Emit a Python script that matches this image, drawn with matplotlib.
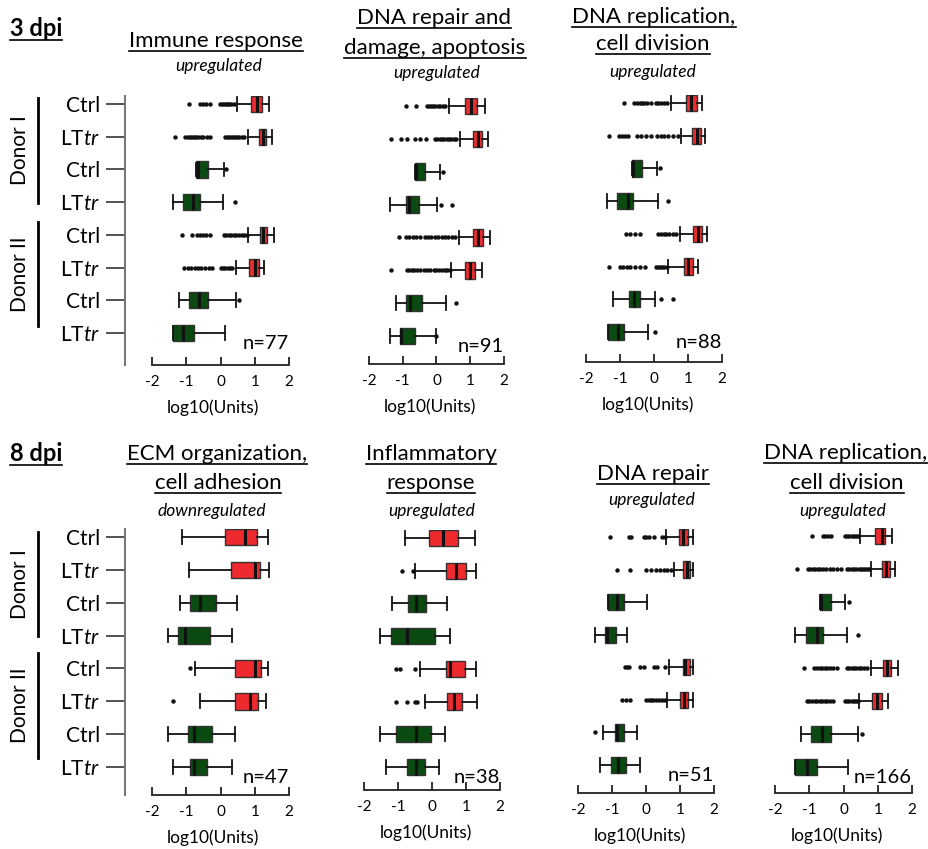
import matplotlib
matplotlib.use("Agg")
import matplotlib.pyplot as plt
from matplotlib.lines import Line2D

# ------------------------------------------
# data: (whisker low, q1, median, q3, whisker high) per row, top to bottom
# ------------------------------------------
row_labels = ["Ctrl", "LT$\\mathit{tr}$", "Ctrl", "LT$\\mathit{tr}$",
              "Ctrl", "LT$\\mathit{tr}$", "Ctrl", "LT$\\mathit{tr}$"]
row_colors = ["red", "red", "green", "green", "red", "red", "green", "green"]

immune_box = [
    (0.49, 0.90, 1.07, 1.22, 1.41),
    (0.80, 1.12, 1.24, 1.34, 1.51),
    (-0.71, -0.71, -0.66, -0.37, 0.10),
    (-1.40, -1.10, -0.80, -0.60, 0.08),
    (0.80, 1.14, 1.25, 1.37, 1.56),
    (0.44, 0.83, 1.00, 1.12, 1.27),
    (-1.22, -0.93, -0.63, -0.37, 0.44),
    (-1.40, -1.40, -1.09, -0.78, 0.13),
]
immune_out = [
    [-0.91, -0.61, -0.50, -0.41, -0.32, -0.02, 0.05, 0.10, 0.15, 0.20, 0.25, 0.32, 0.38],
    [-1.34, -1.04, -0.96, -0.90, -0.84, -0.78, -0.72, -0.65, -0.58, -0.50, -0.40, -0.30,
     0.12, 0.18, 0.24, 0.30, 0.36, 0.42, 0.48, 0.55, 0.62, 0.70],
    [0.15],
    [0.42],
    [-1.12, -0.83, -0.68, -0.60, -0.50, -0.42, -0.30, 0.10, 0.17, 0.24, 0.30, 0.38,
     0.46, 0.54, 0.62, 0.70, 0.78],
    [-1.07, -0.95, -0.85, -0.75, -0.66, -0.56, -0.45, -0.35, -0.24, 0.0, 0.07, 0.14,
     0.21, 0.28, 0.35],
    [0.54],
    [],
]

repair3_box = [
    (0.37, 0.85, 1.03, 1.20, 1.45),
    (0.69, 1.08, 1.23, 1.36, 1.53),
    (-0.65, -0.65, -0.60, -0.35, 0.11),
    (-1.39, -0.89, -0.80, -0.52, 0.02),
    (0.67, 1.08, 1.23, 1.38, 1.58),
    (0.44, 0.83, 0.98, 1.13, 1.35),
    (-1.21, -0.91, -0.78, -0.42, 0.29),
    (-1.37, -1.07, -1.04, -0.63, -0.02),
]
repair3_out = [
    [-0.89, -0.60, -0.28, -0.22, -0.16, -0.10, -0.04, 0.03, 0.10, 0.18, 0.26],
    [-1.34, -1.04, -0.87, -0.65, -0.50, -0.30, -0.05, 0.02, 0.09, 0.16, 0.23, 0.30,
     0.37, 0.44, 0.51, 0.58],
    [0.19],
    [0.14, 0.47],
    [-1.12, -0.91, -0.80, -0.70, -0.60, -0.50, -0.35, -0.25, -0.15, -0.05, 0.05, 0.15,
     0.25, 0.35, 0.45, 0.55],
    [-1.34, -0.87, -0.80, -0.73, -0.66, -0.59, -0.48, -0.38, -0.28, -0.18, -0.08, 0.0,
     0.08, 0.16, 0.24, 0.32, 0.40],
    [0.57],
    [0.0],
]

repl3_box = [
    (0.49, 0.93, 1.08, 1.25, 1.42),
    (0.78, 1.13, 1.27, 1.39, 1.49),
    (-0.66, -0.66, -0.63, -0.34, 0.10),
    (-1.39, -1.08, -0.76, -0.61, 0.12),
    (0.76, 1.15, 1.28, 1.42, 1.57),
    (0.42, 0.88, 1.00, 1.15, 1.28),
    (-1.22, -0.73, -0.59, -0.42, 0.02),
    (-1.36, -1.36, -1.05, -0.89, -0.17),
]
repl3_out = [
    [-0.89, -0.59, -0.50, -0.42, -0.35, -0.28, -0.20, -0.10, 0.05, 0.12, 0.20, 0.30, 0.37],
    [-1.31, -1.02, -0.93, -0.85, -0.76, -0.50, -0.38, -0.25, -0.10, 0.10, 0.20, 0.30,
     0.40, 0.55, 0.70],
    [0.17],
    [0.42],
    [-0.83, -0.71, -0.56, -0.42, 0.12, 0.20, 0.28, 0.36, 0.45, 0.55, 0.65],
    [-1.31, -1.00, -0.90, -0.80, -0.70, -0.55, -0.40, -0.27, 0.07, 0.12, 0.18, 0.24,
     0.30, 0.37],
    [0.20, 0.56],
    [0.02],
]

ecm_box = [
    (-1.12, 0.14, 0.72, 1.07, 1.39),
    (-0.91, 0.31, 1.00, 1.14, 1.41),
    (-1.19, -0.88, -0.59, -0.13, 0.49),
    (-1.54, -1.25, -1.05, -0.30, 0.33),
    (-0.74, 0.43, 1.00, 1.19, 1.40),
    (-0.61, 0.43, 0.87, 1.09, 1.34),
    (-1.52, -0.94, -0.76, -0.25, 0.43),
    (-1.38, -0.88, -0.76, -0.40, 0.33),
]
ecm_out = [[], [], [], [], [-0.89], [-1.38], [], []]

inflam_box = [
    (-0.78, -0.10, 0.32, 0.75, 1.25),
    (-0.49, 0.40, 0.70, 0.99, 1.28),
    (-1.17, -0.71, -0.48, -0.17, 0.44),
    (-1.54, -1.22, -0.74, 0.10, 0.52),
    (-0.36, 0.42, 0.54, 0.96, 1.28),
    (-0.21, 0.45, 0.64, 0.89, 1.33),
    (-1.54, -1.06, -0.46, -0.04, 0.37),
    (-1.34, -0.75, -0.46, -0.20, 0.20),
]
inflam_out = [[], [-0.88, -0.56], [], [], [-1.05, -0.95, -0.49],
              [-1.05, -0.75, -0.51, -0.43], [], []]

repair8_box = [
    (0.59, 0.97, 1.10, 1.23, 1.39),
    (0.83, 1.10, 1.20, 1.28, 1.37),
    (-1.13, -1.13, -0.84, -0.64, 0.02),
    (-1.49, -1.20, -1.15, -0.88, -0.56),
    (0.68, 1.08, 1.15, 1.28, 1.37),
    (0.63, 1.00, 1.12, 1.25, 1.37),
    (-1.27, -0.90, -0.84, -0.64, -0.25),
    (-1.34, -1.02, -0.83, -0.58, -0.17),
]
repair8_out = [
    [-1.07, -0.49, -0.43, -0.07, 0.0, 0.09, 0.24, 0.48, 0.56],
    [-0.86, -0.46, 0.0, 0.14, 0.29, 0.42, 0.53, 0.63, 0.73],
    [],
    [],
    [-0.61, -0.56, -0.49, -0.17, -0.07, 0.25, 0.32, 0.56],
    [-0.71, -0.58, -0.46, 0.0, 0.08, 0.15, 0.22, 0.30, 0.38, 0.48, 0.56],
    [-1.49],
    [],
]

repl8_box = [
    (0.49, 0.93, 1.12, 1.22, 1.41),
    (0.81, 1.12, 1.24, 1.35, 1.49),
    (-0.70, -0.70, -0.66, -0.36, 0.05),
    (-1.41, -1.09, -0.78, -0.60, 0.10),
    (0.81, 1.15, 1.27, 1.39, 1.58),
    (0.46, 0.83, 0.98, 1.12, 1.30),
    (-1.25, -0.95, -0.63, -0.36, 0.42),
    (-1.41, -1.41, -1.07, -0.78, 0.13),
]
repl8_out = [
    [-0.93, -0.61, -0.54, -0.44, -0.36, 0.03, 0.10, 0.17, 0.24, 0.30, 0.37, 0.43],
    [-1.37, -1.05, -0.98, -0.90, -0.82, -0.75, -0.68, -0.60, -0.50, -0.40, -0.30, -0.20,
     -0.08, 0.10, 0.17, 0.24, 0.30, 0.37, 0.44, 0.50, 0.56, 0.63, 0.70, 0.75],
    [0.15],
    [0.42],
    [-1.14, -0.85, -0.78, -0.70, -0.62, -0.55, -0.47, -0.40, -0.30, -0.20, 0.10, 0.17,
     0.24, 0.30, 0.37, 0.44, 0.50, 0.60, 0.70],
    [-1.07, -1.00, -0.92, -0.84, -0.77, -0.70, -0.62, -0.55, -0.47, -0.40, -0.30, 0.03,
     0.10, 0.17, 0.24, 0.30, 0.36, 0.42],
    [0.54],
    [],
]

n_genes = [77, 91, 88, 47, 38, 51, 166]

# ------------------------------------------
# style
# ------------------------------------------
plt.rcParams['font.family'] = 'Lato'
plt.rcParams['mathtext.fontset'] = 'custom'
plt.rcParams['mathtext.rm'] = 'Lato'
plt.rcParams['mathtext.it'] = 'Lato:italic'
plt.rcParams['axes.unicode_minus'] = False

face = {"red": "#ee2a2f", "green": "#0b4a10"}
W, H = 929, 849
fig = plt.figure(figsize=(W / 100, H / 100), dpi=100)
renderer = fig.canvas.get_renderer()
TITLE = 16


def fx(px):
    return px / W


def fy(py):
    return 1 - py / H


def add_panel(box, out, n, xm2, xp2, y1, y8, ybot, labels=False):
    unit = (xp2 - xm2) / 4
    row = (y8 - y1) / 7
    left = 125 if labels else xm2 - 25
    right = xp2 + 12
    top = y1 - 8
    ax = fig.add_axes([fx(left), fy(ybot), (right - left) / W, (ybot - top) / H])

    stats = []
    for (lo, q1, med, q3, hi), fl in zip(box, out):
        stats.append(dict(whislo=lo, q1=q1, med=med, q3=q3, whishi=hi, fliers=fl))
    res = ax.bxp(stats, positions=range(1, 9), orientation='horizontal', widths=0.5,
                 capwidths=0.42, patch_artist=True,
                 boxprops=dict(edgecolor='#333333', linewidth=1.0),
                 medianprops=dict(color='#111111', linewidth=2.2),
                 whiskerprops=dict(color='#111111', linewidth=1.3),
                 capprops=dict(color='#111111', linewidth=1.3),
                 flierprops=dict(marker='o', markersize=3.2, markerfacecolor='#111111',
                                 markeredgecolor='none'))
    for patch, c in zip(res['boxes'], row_colors):
        patch.set_facecolor(face[c])

    ax.set_xlim(-2 - (xm2 - left) / unit, 2 + (right - xp2) / unit)
    ax.set_ylim(8 + (ybot - y8) / row, 1 - (y1 - top) / row)

    for s in ['top', 'right']:
        ax.spines[s].set_visible(False)
    ax.spines['bottom'].set_bounds(-2, 2)
    ax.spines['bottom'].set_linewidth(1.3)
    ax.spines['bottom'].set_color('#222222')
    ax.set_xticks([-2, -1, 0, 1, 2])
    ax.set_xticklabels(['-2', '-1', '0', '1', '2'])
    ax.tick_params(axis='x', direction='in', length=6, width=1.3, labelsize=11,
                   pad=7, color='#222222')
    ax.set_xlabel('log10(Units)', fontsize=12.5, labelpad=8)

    if labels:
        ax.spines['left'].set_color('#777777')
        ax.spines['left'].set_linewidth(1.5)
        ax.set_yticks(range(1, 9))
        ax.set_yticklabels(row_labels)
        ax.tick_params(axis='y', length=14, width=1.3, color='#444444', pad=4,
                       labelsize=15)
    else:
        ax.spines['left'].set_visible(False)
        ax.set_yticks([])

    ax.text(2, 8 + 16 / row, f'n={n}', ha='right', va='baseline', fontsize=14.5)
    return ax


def underlined(x, ybase, s, size=TITLE, weight='normal'):
    t = fig.text(fx(x), fy(ybase), s, ha='center', va='baseline', fontsize=size,
                 fontweight=weight)
    bb = t.get_window_extent(renderer)
    fig.add_artist(Line2D([bb.x0 / W, bb.x1 / W], [fy(ybase + 4)] * 2,
                          color='black', linewidth=1.2))


def subtitle(x, y, s):
    fig.text(fx(x), fy(y), s, ha='center', va='center', fontsize=12.5, style='italic')


def donor_bracket(y0, y1, label):
    fig.add_artist(Line2D([fx(38), fx(38)], [fy(y0), fy(y1)], color='black', linewidth=2))
    fig.text(fx(20), fy((y0 + y1) / 2), label, rotation=90, ha='center', va='center',
             fontsize=15)


# ------------------------------------------
# 3 dpi
# ------------------------------------------
add_panel(immune_box, immune_out, n_genes[0], 152, 289, 104, 333, 365, labels=True)
add_panel(repair3_box, repair3_out, n_genes[1], 369, 504, 106, 336, 364)
add_panel(repl3_box, repl3_out, n_genes[2], 586, 722, 103, 332, 362)

underlined(36, 36, '3 dpi', 17, weight='bold')
underlined(216, 47, 'Immune response')
subtitle(219, 66, 'upregulated')
underlined(434, 24, 'DNA repair and')
underlined(435, 54, 'damage, apoptosis')
subtitle(437, 73, 'upregulated')
underlined(654, 23, 'DNA replication,')
underlined(653, 50, 'cell division')
subtitle(653, 72, 'upregulated')

donor_bracket(98, 203, 'Donor I')
donor_bracket(222, 326, 'Donor II')

# ------------------------------------------
# 8 dpi
# ------------------------------------------
add_panel(ecm_box, ecm_out, n_genes[3], 152, 289, 537, 767, 795, labels=True)
add_panel(inflam_box, inflam_out, n_genes[4], 364, 500, 538, 767, 790)
add_panel(repair8_box, repair8_out, n_genes[5], 578, 714, 537, 765, 793)
add_panel(repl8_box, repl8_out, n_genes[6], 775, 912, 536, 767, 793)

underlined(36, 461, '8 dpi', 17, weight='bold')
underlined(217, 460, 'ECM organization,')
underlined(218, 489, 'cell adhesion')
subtitle(212, 511, 'downregulated')
underlined(431, 460, 'Inflammatory')
underlined(431, 489, 'response')
subtitle(432, 511, 'upregulated')
underlined(653, 480, 'DNA repair')
subtitle(652, 500, 'upregulated')
underlined(846, 459, 'DNA replication,')
underlined(847, 489, 'cell division')
subtitle(843, 511, 'upregulated')

donor_bracket(532, 636, 'Donor I')
donor_bracket(653, 758, 'Donor II')

fig.savefig('out.png', dpi=100)
